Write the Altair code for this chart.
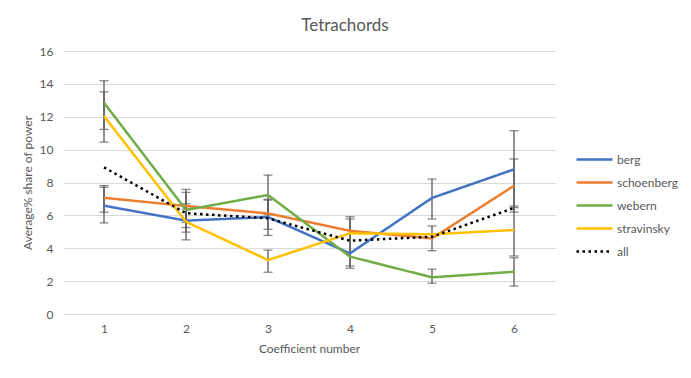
import altair as alt
import pandas as pd

coefficients = [1, 2, 3, 4, 5, 6]
series_names = ["berg", "schoenberg", "webern", "stravinsky", "all"]
series_colors = ["#4472C4", "#ED7D31", "#70AD47", "#FFC000", "#000000"]

berg = [6.59, 5.68, 5.90, 3.69, 7.06, 8.80]
schoenberg = [7.07, 6.57, 6.12, 5.06, 4.60, 7.80]
webern = [12.85, 6.33, 7.24, 3.49, 2.23, 2.57]
stravinsky = [12.04, 5.61, 3.28, 4.91, 4.85, 5.11]
all_pieces = [8.92, 6.13, 5.82, 4.46, 4.70, 6.45]

# error bar ends (None = no visible bar)
berg_lo = [5.54, 4.98, 4.78, 2.78, 5.78, 6.47]
berg_hi = [7.71, 6.38, 6.98, 5.92, 8.21, 11.15]
schoenberg_lo = [6.19, 5.57, 5.15, None, 3.85, 6.20]
schoenberg_hi = [7.81, 7.58, 6.93, None, 5.35, 9.43]
webern_lo = [11.23, 5.26, 6.04, 2.92, 1.87, 1.70]
webern_hi = [14.19, 7.40, 8.45, 5.78, 2.72, 3.42]
stravinsky_lo = [10.46, 4.51, 2.54, None, None, 3.53]
stravinsky_hi = [13.52, 6.71, 3.89, None, None, 6.57]

values = {"berg": berg, "schoenberg": schoenberg, "webern": webern,
          "stravinsky": stravinsky, "all": all_pieces}
errs = {"berg": (berg_lo, berg_hi), "schoenberg": (schoenberg_lo, schoenberg_hi),
        "webern": (webern_lo, webern_hi), "stravinsky": (stravinsky_lo, stravinsky_hi)}

rows = []
for s in series_names:
    for c, v in zip(coefficients, values[s]):
        rows.append({"series": s, "coef": c, "value": v})
df = pd.DataFrame(rows)

erows = []
for s, (lo, hi) in errs.items():
    for c, l, h in zip(coefficients, lo, hi):
        if l is not None and h is not None:
            erows.append({"series": s, "coef": c, "lo": l, "hi": h})
edf = pd.DataFrame(erows)

FONT = "Lato"
TXT = "#595959"
GRID = "#D9D9D9"

x_enc = alt.X("coef:O", scale=alt.Scale(type="point", padding=0.5),
              axis=alt.Axis(title="Coefficient number", labelAngle=0, ticks=False,
                            domain=True, domainColor=GRID, domainWidth=1, grid=False,
                            labelPadding=9, titlePadding=9, labelFont=FONT,
                            titleFont=FONT, labelFontSize=12, titleFontSize=12,
                            titleFontWeight="normal", labelColor=TXT, titleColor=TXT))
y_scale = alt.Scale(domain=[0, 16], nice=False)
y_axis = alt.Axis(title="Average% share of power", values=[0, 2, 4, 6, 8, 10, 12, 14, 16],
                  grid=True, gridColor=GRID, gridWidth=1, domain=False, ticks=False,
                  labelPadding=10, titlePadding=5, labelFont=FONT, titleFont=FONT,
                  labelFontSize=12, titleFontSize=12, titleFontWeight="normal",
                  labelColor=TXT, titleColor=TXT)

legend = alt.Legend(title=None, orient="none", legendX=524, legendY=101,
                    symbolType="M-3,0H3", symbolSize=144, symbolStrokeWidth=2.5,
                    labelFont=FONT, labelFontSize=12, labelColor=TXT,
                    rowPadding=9, labelOffset=15)

err_rule = alt.Chart(edf).mark_rule(color="#595959", strokeWidth=1.3).encode(
    x=x_enc,
    y=alt.Y("lo:Q", scale=y_scale, axis=y_axis),
    y2="hi:Q",
)
cap_lo = alt.Chart(edf).mark_tick(color="#595959", size=9, thickness=1.3,
                                 orient="horizontal").encode(
    x=x_enc, y=alt.Y("lo:Q", scale=y_scale, axis=y_axis))
cap_hi = alt.Chart(edf).mark_tick(color="#595959", size=9, thickness=1.3,
                                 orient="horizontal").encode(
    x=x_enc, y=alt.Y("hi:Q", scale=y_scale, axis=y_axis))

lines = alt.Chart(df).mark_line(strokeWidth=2.5).encode(
    x=x_enc,
    y=alt.Y("value:Q", scale=y_scale, axis=y_axis),
    color=alt.Color("series:N", scale=alt.Scale(domain=series_names, range=series_colors),
                    legend=legend),
    strokeDash=alt.StrokeDash("series:N",
                              scale=alt.Scale(domain=series_names,
                                              range=[[1, 0], [1, 0], [1, 0], [1, 0], [2.5, 3.5]]),
                              legend=legend),
)

chart = alt.layer(err_rule, cap_lo, cap_hi, lines).properties(
    width=492, height=263,
    title=alt.TitleParams("Tetrachords", font=FONT, fontSize=17, fontWeight="normal",
                          color=TXT, anchor="middle", dx=36, offset=10),
    autosize=alt.AutoSizeParams(type="none"),
    padding={"left": 55, "top": 43, "right": 128, "bottom": 56},
).configure_view(stroke=None)

chart.save("out.html", embed_options={"renderer": "svg", "actions": False})
